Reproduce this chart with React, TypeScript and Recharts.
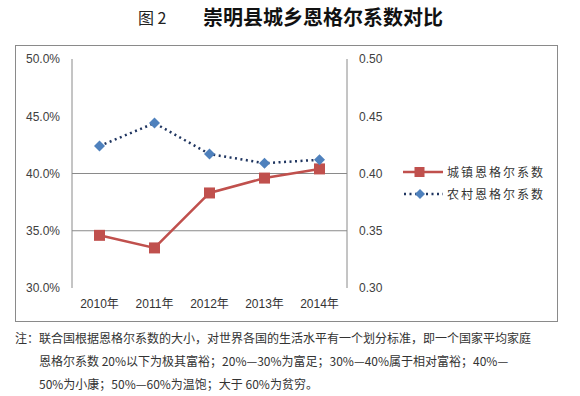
import React from "react"
import {
  LineChart,
  Line,
  XAxis,
  YAxis,
  ReferenceLine,
  Legend,
} from "recharts"

// 年份 + 两条恩格尔系数序列
const years = ["2010年", "2011年", "2012年", "2013年", "2014年"]
const urbanValues = [0.346, 0.335, 0.383, 0.396, 0.404]
const ruralValues = [0.424, 0.444, 0.417, 0.409, 0.412]
const yTicks = [0.3, 0.35, 0.4, 0.45, 0.5]
const gridValues = [0.35, 0.4]

const urbanName = "城镇恩格尔系数"
const ruralName = "农村恩格尔系数"
const legendOrder = ["urban", "rural"]

const noteLines = [
  "注：联合国根据恩格尔系数的大小，对世界各国的生活水平有一个划分标准，即一个国家平均家庭",
  "恩格尔系数 20%以下为极其富裕；20%—30%为富足；30%—40%属于相对富裕；40%—",
  "50%为小康；50%—60%为温饱；大于 60%为贫穷。",
]

const RED = "#C0504D"
const BLUE = "#4F81BD"
const NAVY = "#1F3560"
const AXIS = "#8a8a8a"
const LABEL_FONT = '"Liberation Sans", "Noto Sans CJK SC", sans-serif'
const CJK_FONT = '"Noto Sans CJK SC", sans-serif'

const chartData = years.map((year, i) => ({
  year,
  urban: urbanValues[i],
  rural: ruralValues[i],
}))

function SquareDot(props: any) {
  const { cx, cy, index } = props
  if (cx == null || cy == null) return null
  return (
    <rect
      key={`sq-${index}`}
      x={cx - 5.5}
      y={cy - 5.5}
      width={11}
      height={11}
      fill={RED}
    />
  )
}

function DiamondDot(props: any) {
  const { cx, cy, index } = props
  if (cx == null || cy == null) return null
  const r = 5.5
  return (
    <polygon
      key={`dm-${index}`}
      points={`${cx},${cy - r} ${cx + r},${cy} ${cx},${cy + r} ${cx - r},${cy}`}
      fill={BLUE}
    />
  )
}

// legend on the right, line sample + marker + name
function SeriesLegend({ payload }: any) {
  if (!payload) return null
  const items = [...payload].sort(
    (a: any, b: any) => legendOrder.indexOf(a.dataKey) - legendOrder.indexOf(b.dataKey)
  )
  return (
    <div style={{ display: "flex", flexDirection: "column", gap: 5 }}>
      {items.map((entry: any) => {
        const isUrban = entry.dataKey === "urban"
        return (
          <div key={entry.dataKey} style={{ display: "flex", alignItems: "center" }}>
            <svg width={42} height={14}>
              {isUrban ? (
                <>
                  <line x1={0} y1={7} x2={40} y2={7} stroke={RED} strokeWidth={2.5} />
                  <rect x={11.5} y={2} width={10} height={10} fill={RED} />
                </>
              ) : (
                <>
                  <line
                    x1={1}
                    y1={7}
                    x2={40}
                    y2={7}
                    stroke={NAVY}
                    strokeWidth={2.5}
                    strokeDasharray="2 3.5"
                  />
                  <polygon points="17,2 22,7 17,12 12,7" fill={BLUE} />
                </>
              )}
            </svg>
            <span
              style={{
                fontFamily: CJK_FONT,
                fontSize: 12,
                letterSpacing: 2,
                color: "#333",
                marginLeft: 2,
              }}
            >
              {entry.value}
            </span>
          </div>
        )
      })}
    </div>
  )
}

export default function App() {
  return (
    <div
      style={{
        position: "absolute",
        left: 0,
        top: 0,
        width: 580,
        height: 396,
        background: "#fff",
        overflow: "hidden",
      }}
    >
      {/* title */}
      <span
        style={{
          position: "absolute",
          left: 138,
          top: 7,
          lineHeight: "20px",
          fontFamily: CJK_FONT,
          fontSize: 16,
          color: "#222",
        }}
      >
        图 2
      </span>
      <span
        style={{
          position: "absolute",
          left: 203,
          top: 7,
          lineHeight: "20px",
          fontFamily: CJK_FONT,
          fontSize: 20,
          fontWeight: 700,
          color: "#111",
        }}
      >
        崇明县城乡恩格尔系数对比
      </span>

      {/* chart frame */}
      <div
        style={{
          position: "absolute",
          left: 15,
          top: 45,
          width: 541,
          height: 275,
          border: `1px solid ${AXIS}`,
        }}
      />

      <div style={{ position: "absolute", left: 0, top: 0 }}>
        <LineChart
          width={580}
          height={396}
          data={chartData}
          margin={{ top: 59, right: 183, bottom: 78, left: 12 }}
        >
          <XAxis
            dataKey="year"
            axisLine={false}
            tickLine={false}
            tickMargin={5}
            padding={{ left: 27.5, right: 27.5 }}
            tick={{ fontSize: 12, fill: "#333", fontFamily: LABEL_FONT }}
            interval={0}
          />
          <YAxis
            yAxisId="left"
            orientation="left"
            width={60}
            domain={[0.3, 0.5]}
            ticks={yTicks}
            allowDataOverflow
            axisLine={{ stroke: AXIS }}
            tickLine={false}
            tickMargin={6}
            tick={{ fontSize: 12, fill: "#404040", fontFamily: LABEL_FONT }}
            tickFormatter={(v: number) => `${(v * 100).toFixed(1)}%`}
          />
          <YAxis
            yAxisId="right"
            orientation="right"
            width={50}
            domain={[0.3, 0.5]}
            ticks={yTicks}
            allowDataOverflow
            axisLine={{ stroke: AXIS }}
            tickLine={false}
            tickMargin={6}
            tick={{ fontSize: 12, fill: "#404040", fontFamily: LABEL_FONT }}
            tickFormatter={(v: number) => v.toFixed(2)}
          />
          {gridValues.map((v) => (
            <ReferenceLine key={v} yAxisId="left" y={v} stroke={AXIS} strokeWidth={1} />
          ))}
          <Legend
            layout="vertical"
            align="center"
            verticalAlign="middle"
            content={<SeriesLegend />}
            wrapperStyle={{ left: 403, top: 163, width: 160 }}
          />
          <Line
            yAxisId="left"
            dataKey="urban"
            name={urbanName}
            type="linear"
            stroke={RED}
            strokeWidth={2.5}
            dot={SquareDot}
            activeDot={false}
            isAnimationActive={false}
          />
          <Line
            yAxisId="left"
            dataKey="rural"
            name={ruralName}
            type="linear"
            stroke={NAVY}
            strokeWidth={2.5}
            strokeDasharray="2 3.5"
            dot={DiamondDot}
            activeDot={false}
            isAnimationActive={false}
          />
        </LineChart>
      </div>

      {/* footnote */}
      <div
        style={{
          position: "absolute",
          left: 15,
          top: 326,
          fontFamily: CJK_FONT,
          fontSize: 12,
          lineHeight: "23px",
          color: "#333",
          whiteSpace: "nowrap",
        }}
      >
        {noteLines.map((line, i) => (
          <div key={i} style={{ paddingLeft: i === 0 ? 0 : 24 }}>
            {line}
          </div>
        ))}
      </div>
    </div>
  )
}
